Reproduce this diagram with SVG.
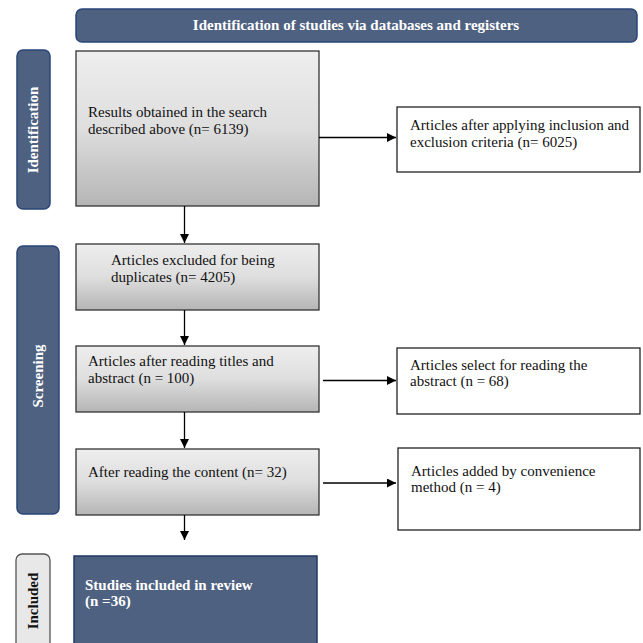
<svg xmlns="http://www.w3.org/2000/svg" width="643" height="643" viewBox="0 0 643 643">
<defs>
<linearGradient id="g" x1="0" y1="0" x2="0" y2="1">
<stop offset="0" stop-color="#eeeeee"/>
<stop offset="0.5" stop-color="#dedede"/>
<stop offset="1" stop-color="#b5b5b5"/>
</linearGradient>
<marker id="ah" viewBox="0 0 10 10" refX="10" refY="5" markerWidth="9" markerHeight="9" markerUnits="userSpaceOnUse" orient="auto">
<path d="M0,0 L10,5 L0,10 z" fill="#000"/>
</marker>
<style>
text{font-family:'Liberation Serif','Times New Roman',serif;font-size:15px;fill:#111}
.gb{fill:url(#g);stroke:#333;stroke-width:1.3}
.wb{fill:#fff;stroke:#222;stroke-width:1.3}
.nav{fill:#4f6180;stroke:#2a4578;stroke-width:1.5}
.wt{fill:#fff;font-weight:bold}
.c{stroke:#000;stroke-width:1.3;fill:none;marker-end:url(#ah)}
</style>
</defs>
<rect width="643" height="643" fill="#fff"/>
<g font-family="Liberation Serif, serif">
<g id="header">
<rect class="nav" x="76" y="9" width="561" height="33" rx="6"/>
<text class="wt" x="356" y="30" text-anchor="middle" font-size="14">Identification of studies via databases and registers</text>
</g>
<g id="lbl-identification">
<rect class="nav" x="17" y="50" width="33" height="159" rx="6"/>
<text class="wt" transform="translate(38,130) rotate(-90)" text-anchor="middle" font-size="14.5">Identification</text>
</g>
<g id="lbl-screening">
<rect class="nav" x="17" y="246" width="42" height="268" rx="6"/>
<text class="wt" transform="translate(42.5,376) rotate(-90)" text-anchor="middle" font-size="14.5">Screening</text>
</g>
<g id="lbl-included">
<rect x="16" y="554" width="34" height="100" rx="6" fill="#e8e8e8" stroke="#555" stroke-width="1.3"/>
<text transform="translate(37.5,601) rotate(-90)" text-anchor="middle" font-size="14.5" font-weight="bold" fill="#222">Included</text>
</g>
<g id="n-search">
<rect class="gb" x="76" y="51" width="243" height="155"/>
<text x="88" y="117">Results obtained in the search</text>
<text x="88" y="134">described above (n= 6139)</text>
</g>
<g id="n-criteria">
<rect class="wb" x="397" y="107" width="243" height="65"/>
<text x="410" y="130">Articles after applying inclusion and</text>
<text x="410" y="147">exclusion criteria (n= 6025)</text>
</g>
<g id="n-duplicates">
<rect class="gb" x="76" y="244" width="243" height="66"/>
<text x="111" y="265">Articles excluded for being</text>
<text x="111" y="282">duplicates (n= 4205)</text>
</g>
<g id="n-titles">
<rect class="gb" x="76" y="346" width="243" height="66"/>
<text x="88" y="366">Articles after reading titles and</text>
<text x="88" y="383">abstract (n = 100)</text>
</g>
<g id="n-select">
<rect class="wb" x="397" y="348" width="243" height="66"/>
<text x="410" y="370">Articles select for reading the</text>
<text x="410" y="386">abstract (n = 68)</text>
</g>
<g id="n-content">
<rect class="gb" x="76" y="449" width="243" height="66"/>
<text x="88" y="477">After reading the content (n= 32)</text>
</g>
<g id="n-convenience">
<rect class="wb" x="398" y="448" width="242" height="82"/>
<text x="411" y="476">Articles added by convenience</text>
<text x="411" y="492">method (n = 4)</text>
</g>
<g id="n-included">
<rect x="74" y="556" width="243" height="100" fill="#4f6180" stroke="#203864" stroke-width="1.5"/>
<text class="wt" x="85" y="590">Studies included in review</text>
<text class="wt" x="85" y="606">(n =36)</text>
</g>
</g>
<g id="connectors">
<line class="c" x1="319" y1="137.5" x2="396" y2="137.5"/>
<line class="c" x1="323" y1="380.5" x2="396" y2="380.5"/>
<line class="c" x1="323" y1="483" x2="396" y2="483"/>
<line class="c" x1="184.5" y1="206" x2="184.5" y2="243"/>
<line class="c" x1="184.5" y1="310" x2="184.5" y2="345"/>
<line class="c" x1="184.5" y1="412" x2="184.5" y2="448"/>
<line class="c" x1="184.5" y1="515" x2="184.5" y2="540"/>
</g>
</svg>
